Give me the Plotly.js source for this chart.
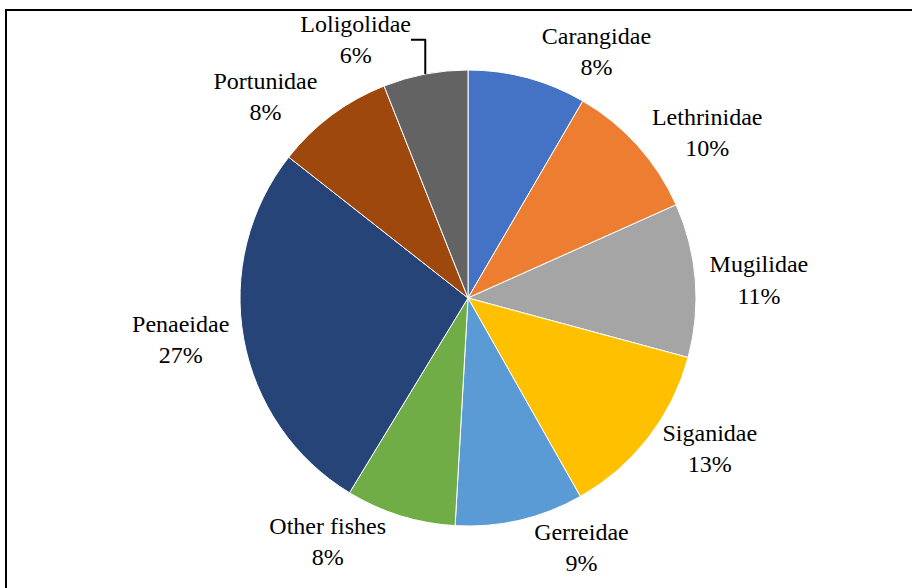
<!DOCTYPE html>
<html>
<head>
<meta charset="utf-8">
<script src="https://cdn.plot.ly/plotly-3.0.1.min.js"></script>
<style>
html,body{margin:0;padding:0;background:#fff;}
#wrap{position:relative;width:912px;height:588px;overflow:hidden;}
#chart{width:912px;height:588px;}
#frame{position:absolute;left:5px;top:9px;width:930px;height:620px;border:2px solid #000;pointer-events:none;box-sizing:border-box;}
#preload{position:absolute;left:-9999px;top:-9999px;font-family:"Liberation Serif";font-size:24px;}
#chart text{font-family:"Liberation Serif",serif !important;}
</style>
</head>
<body>
<span id="preload">Lethrinidae 10%</span>
<div id="wrap">
<div id="chart"></div>
<div id="frame"></div>
</div>
<script>
const families = ["Carangidae","Lethrinidae","Mugilidae","Siganidae","Gerreidae","Other fishes","Penaeidae","Portunidae","Loligolidae"];
const shares = [8.4, 9.9, 10.9, 12.6, 9.1, 7.8, 26.9, 8.4, 6.0];
const colors = ["#4472C4","#ED7D31","#A5A5A5","#FFC000","#5B9BD5","#70AD47","#264478","#9E480E","#636363"];

const W = 912, H = 588;
const serif = 'Liberation Serif';

const pie = {
  type:'pie', labels:families, values:shares, sort:false, direction:'clockwise',
  marker:{colors:colors, line:{color:'#ffffff', width:1}},
  texttemplate:'%{label}<br>%{percent:.0%}', textposition:'outside',
  textfont:{family:serif, size:24, color:'#000'},
  hoverinfo:'none', showlegend:false
};

const layout = {
  width:W, height:H, margin:{l:240, r:216, t:70, b:62},
  font:{family:serif, size:24, color:'#000'},
  paper_bgcolor:'#fff', plot_bgcolor:'#fff', showlegend:false
};

function draw(){
  return Plotly.newPlot('chart',[pie],layout,{displayModeBar:false});
}
if (document.fonts && document.fonts.load) {
  document.fonts.load('24px "Liberation Serif"').then(draw, draw);
} else {
  draw();
}
</script>
</body>
</html>
